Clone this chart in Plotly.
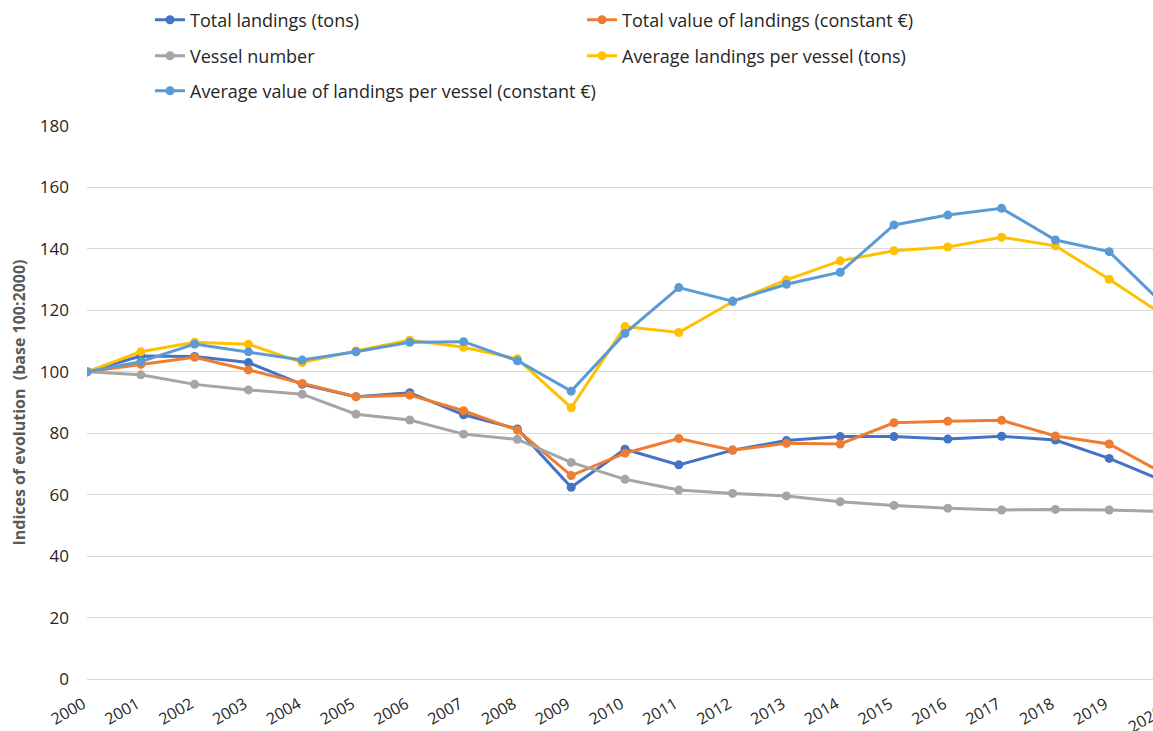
import plotly.graph_objects as go

years = list(range(2000, 2021))
total_landings = [100, 105.1, 105.0, 103.0, 95.9, 91.9, 93.2, 86.0, 81.4, 62.4, 74.8, 69.7, 74.5, 77.6, 78.9, 78.9, 78.1, 79.0, 77.8, 71.8, 64.5]
total_value = [100, 102.4, 104.7, 100.6, 96.2, 91.9, 92.4, 87.3, 81.0, 66.2, 73.5, 78.3, 74.5, 76.7, 76.5, 83.4, 83.9, 84.2, 79.1, 76.5, 67.0]
vessel_number = [100, 99.0, 95.9, 94.1, 92.7, 86.2, 84.3, 79.7, 78.0, 70.5, 65.0, 61.5, 60.4, 59.6, 57.7, 56.5, 55.6, 55.0, 55.2, 55.0, 54.5]
avg_landings = [100, 106.5, 109.6, 109.0, 103.0, 106.8, 110.3, 108.0, 104.2, 88.3, 114.7, 112.8, 122.8, 129.9, 136.1, 139.4, 140.6, 143.8, 141.0, 130.1, 118.5]
avg_value = [100, 103.3, 109.0, 106.5, 103.8, 106.5, 109.6, 109.8, 103.6, 93.7, 112.5, 127.4, 123.0, 128.5, 132.4, 147.8, 151.0, 153.2, 142.9, 139.1, 122.0]

series = [
    ("Total landings (tons)", total_landings, "#4472C4", "legend"),
    ("Total value of landings (constant €)", total_value, "#ED7D31", "legend"),
    ("Vessel number", vessel_number, "#A5A5A5", "legend2"),
    ("Average landings per vessel (tons)", avg_landings, "#FFC000", "legend2"),
    ("Average value of landings per vessel (constant €)", avg_value, "#5B9BD5", "legend3"),
]

W, H = 1153, 731
L, T, B = 87, 126, 52
X_END = 2000 + (W - L) / 53.8  # chart is cropped on the right, just before 2020

FONT = "Open Sans"
TXT = "#262626"
fig = go.Figure()
for name, vals, col, lg in series:
    fig.add_trace(go.Scatter(
        x=years, y=vals, name=name, mode="lines+markers",
        line=dict(color=col, width=3),
        marker=dict(color=col, size=9),
        legend=lg,
    ))

leg_common = dict(orientation="h", xref="container", yref="container",
                  x=150 / W, xanchor="left", yanchor="middle",
                  font=dict(family=FONT, size=18, color=TXT),
                  bgcolor="rgba(0,0,0,0)")
fig.update_layout(
    width=W, height=H,
    margin=dict(l=L, r=0, t=T, b=B),
    paper_bgcolor="white", plot_bgcolor="white",
    font=dict(family=FONT, size=17, color=TXT),
    legend=dict(**leg_common, y=1 - 20 / H, entrywidth=387, entrywidthmode="pixels"),
    legend2=dict(**leg_common, y=1 - 56 / H, entrywidth=387, entrywidthmode="pixels"),
    legend3=dict(**leg_common, y=1 - 91 / H),
    xaxis=dict(
        range=[2000, X_END], automargin=False,
        tickmode="array", tickvals=years, ticktext=[str(y) for y in years],
        tickangle=-30, showgrid=False, showline=False, zeroline=False,
        ticks="", tickfont=dict(family=FONT, size=16, color=TXT),
        ticklabelshift=-4, ticklabelstandoff=12,
    ),
    yaxis=dict(
        range=[0, 180], dtick=20, automargin=False,
        showgrid=True, gridcolor="#D9D9D9", gridwidth=1.3,
        zeroline=True, zerolinecolor="#D9D9D9", zerolinewidth=1.3,
        ticks="", ticklabelstandoff=17, tickfont=dict(family=FONT, size=17, color=TXT),
        title=dict(text="Indices of evolution  (base 100:2000)",
                   font=dict(family=FONT, size=16, color="#595959", weight="bold"), standoff=10),
    ),
)
# last category label, partly cut off by the right edge as in the original
last = years[-1]
fig.add_annotation(x=(last - 2000) / (X_END - 2000), y=0, xref="paper", yref="paper",
                   text=str(last), showarrow=False, textangle=-30,
                   xanchor="center", yanchor="middle", xshift=-18, yshift=-40,
                   font=dict(family=FONT, size=16, color=TXT))
fig.write_html("out.html", config={"displayModeBar": False},
               post_script="document.body.style.margin='0';document.body.style.overflow='hidden';")
